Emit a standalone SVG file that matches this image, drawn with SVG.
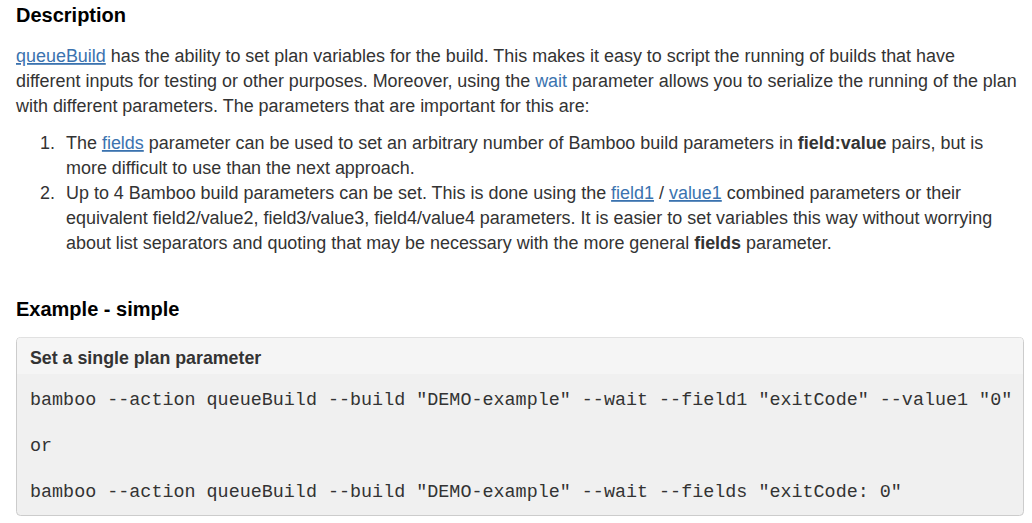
<svg xmlns="http://www.w3.org/2000/svg" width="1032" height="523" viewBox="0 0 1032 523">
<style>
.t{font-family:"Liberation Sans",Arial,sans-serif;font-size:17.95px;fill:#333}
.h{font-family:"Liberation Sans",Arial,sans-serif;font-size:20px;font-weight:bold;fill:#000}
.b{font-weight:bold}
.a{fill:#3b73af}
.u{fill:#3b73af;text-decoration:underline}
.c{font-family:"Liberation Mono","Courier New",monospace;font-size:18.4px;fill:#333}
</style>
<rect width="1032" height="523" fill="#fff"/>
<text class="h" x="16" y="22">Description</text>
<text class="t" x="16" y="62"><tspan class="u">queueBuild</tspan> has the ability to set plan variables for the build. This makes it easy to script the running of builds that have</text>
<text class="t" x="16" y="87">different inputs for testing or other purposes. Moreover, using the <tspan class="a">wait</tspan> parameter allows you to serialize the running of the plan</text>
<text class="t" x="16" y="112">with different parameters. The parameters that are important for this are:</text>
<text class="t" x="40" y="149">1.</text>
<text class="t" x="66" y="149">The <tspan class="u">fields</tspan> parameter can be used to set an arbitrary number of Bamboo build parameters in <tspan class="b">field:value</tspan> pairs, but is</text>
<text class="t" x="66" y="174">more difficult to use than the next approach.</text>
<text class="t" x="40" y="199">2.</text>
<text class="t" x="66" y="199">Up to 4 Bamboo build parameters can be set. This is done using the <tspan class="u">field1</tspan> / <tspan class="u">value1</tspan> combined parameters or their</text>
<text class="t" x="66" y="224">equivalent field2/value2, field3/value3, field4/value4 parameters. It is easier to set variables this way without worrying</text>
<text class="t" x="66" y="249">about list separators and quoting that may be necessary with the more general <tspan class="b">fields</tspan> parameter.</text>
<text class="h" x="16" y="316">Example - simple</text>
<g id="codebox">
<rect x="16.5" y="337.5" width="1007" height="178" rx="4" fill="#f0f0f0" stroke="#ccc"/>
<path d="M17 374 V341.5 a4 4 0 0 1 4 -4 H1019 a4 4 0 0 1 4 4 V374 Z" fill="#f5f5f5"/>
<text class="t b" x="30" y="364" style="font-size:17.8px">Set a single plan parameter</text>
<text class="c" x="30" y="405" xml:space="preserve">bamboo --action queueBuild --build "DEMO-example" --wait --field1 "exitCode" --value1 "0"</text>
<text class="c" x="30" y="451">or</text>
<text class="c" x="30" y="497" xml:space="preserve">bamboo --action queueBuild --build "DEMO-example" --wait --fields "exitCode: 0"</text>
</g>
</svg>
